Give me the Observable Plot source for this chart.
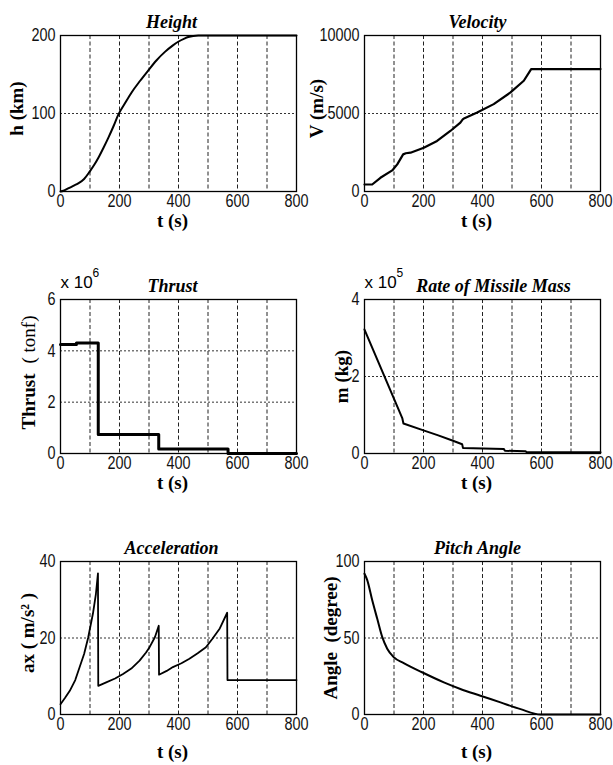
<!DOCTYPE html>
<html>
<head>
<meta charset="utf-8">
<script src="https://cdn.jsdelivr.net/npm/d3@7"></script>
<script src="https://cdn.jsdelivr.net/npm/@observablehq/plot@0.6"></script>
<style>
  body { margin: 0; background: #fff; }
  #fig { position: relative; width: 613px; height: 765px; background: #fff; overflow: hidden; }
  #fig svg { position: absolute; overflow: visible; }
</style>
</head>
<body>
<div id="fig"></div>
<script>
// Shared time axis (seconds)
const timeTicks = [0, 200, 400, 600, 800];
const timeGrid = [100, 200, 300, 400, 500, 600, 700];

// Height (km)
const heightT  = [0, 10, 26, 45, 60, 80, 99, 115, 128, 145, 162, 180, 196, 220, 241, 270, 297, 325, 354, 380, 399, 420, 433, 450, 467, 800];
const heightKm = [0, 1, 3.9, 7.5, 10.4, 16, 25.5, 34.5, 42.9, 55.5, 68.8, 84, 98.5, 114, 127, 142, 155, 168, 179, 187, 192, 196, 198, 199.5, 200, 200];

// Velocity (m/s)
const velT  = [0, 26, 54, 94, 111, 131, 140, 156, 201, 246, 291, 325, 333, 339, 382, 438, 495, 540, 565, 800];
const velMs = [450, 450, 880, 1350, 1740, 2380, 2450, 2490, 2810, 3240, 3880, 4420, 4620, 4700, 5060, 5600, 6350, 7100, 7850, 7850];

// Thrust (x 10^6 tonf), stage steps
const thrustT   = [0, 54, 128, 333, 568, 800];
const thrustVal = [4.25, 4.31, 0.74, 0.18, 0, 0];

// Missile mass (x 10^5 kg)
const massT   = [0, 128, 132, 200, 250, 300, 331, 334, 472, 476, 546, 550, 800];
const massVal = [3.22, 0.92, 0.78, 0.60, 0.47, 0.33, 0.24, 0.14, 0.12, 0.07, 0.06, 0.03, 0.03];

// Acceleration (m/s^2)
const accT   = [0, 15, 31.5, 50, 65, 80, 93.5, 110, 120, 127,
                128, 155, 185, 212, 240, 268, 290, 302, 320, 333,
                334, 360, 381, 410, 437, 465, 493, 515, 540, 565,
                566, 800];
const accVal = [2.7, 4.3, 6.2, 9.0, 12.4, 15.8, 20, 26.4, 31.5, 36.9,
                7.5, 8.4, 9.4, 10.6, 12.0, 14.1, 16.2, 17.6, 20.2, 23.2,
                10.4, 11.4, 12.4, 13.4, 14.6, 16.0, 17.6, 19.8, 22.5, 26.6,
                9.0, 9.0];

// Pitch angle (degree)
const pitchT   = [0, 9, 26, 43, 60, 77, 99, 133, 195, 269, 325, 393, 461, 529, 597, 800];
const pitchDeg = [92, 88, 74.8, 62.7, 50.7, 43, 37.5, 33.6, 27.6, 21, 16.7, 12.3, 7.9, 3.5, 0, 0];

const TICK_FONT = '"Liberation Sans Narrow","Arial Narrow","Liberation Sans",Arial,sans-serif';
const SERIF = '"Liberation Serif","Times New Roman",serif';

const zip = (t, v) => t.map((d, i) => ({t: d, v: v[i]}));

// Narrow the sans-serif numerals to a condensed look
function condense(svg, selector, factor) {
  svg.querySelectorAll(selector).forEach(el => {
    const w = el.getComputedTextLength();
    if (w > 0) {
      el.setAttribute("textLength", (w * factor).toFixed(2));
      el.setAttribute("lengthAdjust", "spacingAndGlyphs");
    }
  });
}

function panel(cfg) {
  const rows = zip(cfg.t, cfg.v);
  const serifText = (extra) => Object.assign({
    text: d => d, fontFamily: SERIF, fontWeight: "bold", fontSize: 19, fill: "#000"
  }, extra);
  const marks = [
    Plot.ruleX(timeGrid, {stroke: "#222", strokeWidth: 1, strokeDasharray: "4,2.5"}),
    Plot.ruleY(cfg.yGrid, {stroke: "#333", strokeWidth: 1, strokeDasharray: "2,2"}),
    Plot.line(rows, {x: "t", y: "v", stroke: "#000", strokeWidth: cfg.sw, curve: cfg.curve}),
    Plot.frame({stroke: "#000", strokeWidth: 1.3}),
    Plot.axisX(timeTicks, {tickSize: 0, tickPadding: 3, label: null, tickFormat: d => String(d)}),
    Plot.axisY(cfg.yTicks, {tickSize: 0, tickPadding: 5, label: null, tickFormat: d => String(d)}),
    Plot.text([cfg.title], serifText({
      frameAnchor: "top", dx: cfg.titleDx, dy: -8, lineAnchor: "bottom",
      fontStyle: "italic", fontSize: 18
    })),
    Plot.text(["t (s)"], serifText({frameAnchor: "bottom", dx: -6, dy: cfg.xLabelDy, lineAnchor: "bottom"})),
    ...cfg.yLabels.map(l => Plot.text([l.text], serifText({
      frameAnchor: "left", rotate: -90, dx: l.dx, dy: l.dy,
      textAnchor: "middle", lineAnchor: "middle", fontWeight: l.weight || "bold"
    })))
  ];
  if (cfg.exponent) {
    marks.push(
      Plot.text(["x 10"], {text: d => d, ariaLabel: "scale factor", frameAnchor: "top-left", textAnchor: "start", lineAnchor: "bottom",
        dx: 0, dy: -12, fontFamily: TICK_FONT, fontSize: 17, fill: "#000"}),
      Plot.text([cfg.exponent], {text: d => d, ariaLabel: "scale exponent", frameAnchor: "top-left", textAnchor: "start", lineAnchor: "bottom",
        dx: 32, dy: -23, fontFamily: TICK_FONT, fontSize: 12, fill: "#000"})
    );
  }
  const svg = Plot.plot({
    width: cfg.width, height: 255,
    marginTop: cfg.mt, marginBottom: cfg.mb, marginLeft: cfg.ml, marginRight: cfg.mr,
    style: {background: "transparent", fontFamily: TICK_FONT, fontSize: "18px", color: "#111", overflow: "visible"},
    x: {domain: [0, 800]},
    y: {domain: cfg.yDomain},
    marks
  });
  svg.style.left = cfg.left + "px";
  svg.style.top = cfg.top + "px";
  document.getElementById("fig").appendChild(svg);
  condense(svg, 'g[aria-label$="tick label"] text', 0.8);
  condense(svg, 'g[aria-label="scale factor"] text', 0.88);
}

const leftCol  = {left: 0,   width: 306, ml: 60, mr: 10};
const rightCol = {left: 306, width: 307, ml: 58, mr: 13};
const row1 = {top: 0,   mt: 35, mb: 64, xLabelDy: 35};
const row2 = {top: 255, mt: 44, mb: 57, xLabelDy: 35};
const row3 = {top: 510, mt: 51, mb: 51, xLabelDy: 43};

panel({...leftCol, ...row1, t: heightT, v: heightKm, sw: 2, curve: "monotone-x",
  yDomain: [0, 200], yTicks: [0, 100, 200], yGrid: [100],
  title: "Height", titleDx: -7,
  yLabels: [{text: "h (km)", dx: -44, dy: -5}]});

panel({...rightCol, ...row1, t: velT, v: velMs, sw: 2.2, curve: "linear",
  yDomain: [0, 10000], yTicks: [0, 5000, 10000], yGrid: [5000],
  title: "Velocity", titleDx: -5,
  yLabels: [{text: "V (m/s)", dx: -48, dy: -5}]});

panel({...leftCol, ...row2, t: thrustT, v: thrustVal, sw: 3, curve: "step-after",
  yDomain: [0, 6], yTicks: [0, 2, 4, 6], yGrid: [2, 4],
  title: "Thrust", titleDx: -6, exponent: "6",
  yLabels: [{text: "Thrust", dx: -32, dy: 25}, {text: "( tonf)", dx: -32, dy: -37, weight: "normal"}]});

panel({...rightCol, ...row2, t: massT, v: massVal, sw: 2, curve: "linear",
  yDomain: [0, 4], yTicks: [0, 2, 4], yGrid: [2],
  title: "Rate of Missile Mass", titleDx: 11, exponent: "5",
  yLabels: [{text: "m (kg)", dx: -23, dy: 0}]});

panel({...leftCol, ...row3, t: accT, v: accVal, sw: 1.8, curve: "linear",
  yDomain: [0, 40], yTicks: [0, 20, 40], yGrid: [20],
  title: "Acceleration", titleDx: -7,
  yLabels: [{text: "ax ( m/s² )", dx: -33, dy: -5}]});

panel({...rightCol, ...row3, t: pitchT, v: pitchDeg, sw: 2, curve: "monotone-x",
  yDomain: [0, 100], yTicks: [0, 50, 100], yGrid: [50],
  title: "Pitch Angle", titleDx: -5,
  yLabels: [{text: "Angle  (degree)", dx: -34, dy: 0}]});
</script>
</body>
</html>
